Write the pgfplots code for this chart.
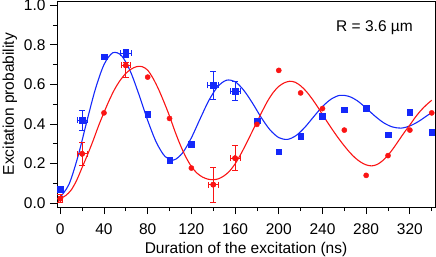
\documentclass[border=0pt]{standalone}
\usepackage{fontspec}
\setmainfont{Liberation Sans}
\usepackage{pgfplots}
\pgfplotsset{compat=1.18}
\definecolor{myblue}{RGB}{20,40,250}
\definecolor{myred}{RGB}{250,20,20}
\newcommand{\lblfont}{\fontsize{15.5bp}{18bp}\selectfont}
\begin{document}
\begin{tikzpicture}
\path[use as bounding box] (-57bp,-50bp) rectangle (379bp,207bp);
\begin{axis}[
  at={(0,0)}, anchor=south west,
  scale only axis, width=378bp, height=205.6bp,
  xmin=-3, xmax=343, ymin=-0.02, ymax=1.02,
  axis line style={line width=0.8bp, black},
  tick align=outside, tick pos=left,
  major tick length=7bp, minor tick length=4bp,
  every tick/.style={black, line width=0.8bp},
  xtick={0,40,80,120,160,200,240,280,320},
  minor xtick={20,60,100,140,180,220,260,300,340},
  ytick={0,0.2,0.4,0.6,0.8,1.0},
  minor ytick={0.1,0.3,0.5,0.7,0.9},
  /pgf/number format/assume math mode=true,
  yticklabel style={/pgf/number format/fixed, /pgf/number format/fixed zerofill, /pgf/number format/precision=1, xshift=-1bp},
  xticklabel style={yshift=-6bp},
  tick label style={font=\lblfont},
  label style={font=\lblfont},
  xlabel={Duration of the excitation (ns)},
  xlabel style={at={(axis description cs:0.5,0)}, anchor=base, yshift=-46.8bp},
  ylabel={Excitation probability},
]
\addplot[myblue, line width=1.1bp, smooth] coordinates {
(0,0.030)(8,0.095)(16,0.232)(24,0.406)(32,0.574)(40,0.700)(48,0.760)(56,0.746)(64,0.668)(72,0.549)(80,0.418)(88,0.306)(96,0.235)(104,0.218)(112,0.254)(120,0.330)(128,0.426)(136,0.519)(144,0.588)(152,0.621)(160,0.614)(168,0.570)(176,0.505)(184,0.432)(192,0.370)(200,0.331)(208,0.322)(216,0.342)(224,0.384)(232,0.437)(240,0.488)(248,0.526)(256,0.545)(264,0.540)(272,0.517)(280,0.480)(288,0.440)(296,0.406)(304,0.385)(312,0.379)(320,0.390)(328,0.413)(336,0.443)(340,0.457)
};
\addplot[myred, line width=1.1bp, smooth] coordinates {
(0,0.022)(5,0.038)(10,0.066)(15,0.115)(20,0.180)(25,0.245)(30,0.315)(35,0.390)(40,0.458)(45,0.522)(50,0.578)(55,0.622)(60,0.656)(65,0.678)(70,0.690)(75,0.690)(80,0.672)(85,0.630)(90,0.575)(95,0.510)(100,0.440)(105,0.362)(110,0.292)(115,0.232)(120,0.185)(125,0.152)(130,0.132)(135,0.121)(140,0.118)(145,0.123)(150,0.138)(155,0.162)(160,0.198)(165,0.245)(170,0.298)(175,0.354)(180,0.410)(185,0.466)(190,0.518)(195,0.560)(200,0.590)(205,0.608)(210,0.616)(215,0.611)(220,0.593)(225,0.566)(230,0.531)(235,0.491)(240,0.448)(245,0.405)(250,0.364)(255,0.325)(260,0.289)(265,0.256)(270,0.228)(275,0.207)(280,0.193)(285,0.188)(290,0.195)(295,0.214)(300,0.242)(305,0.278)(310,0.318)(315,0.358)(320,0.395)(325,0.434)(330,0.468)(335,0.496)(340,0.520)
};
% error bars
\addplot[myblue, only marks, mark=square*, mark size=2.8bp,
  error bars/.cd, x dir=both, x explicit, y dir=both, y explicit,
  error bar style={line width=0.8bp},
  error mark options={rotate=90, mark size=3bp, line width=0.8bp}]
coordinates {
(20,0.42) +- (4.5,0.05)
(60,0.757) +- (5,0.02)
(140,0.595) +- (5,0.071)
(160,0.567) +- (4.5,0.05)
};
\addplot[myred, only marks, mark=*, mark size=2.6bp,
  error bars/.cd, x dir=both, x explicit, y dir=both, y explicit,
  error bar style={line width=0.8bp},
  error mark options={rotate=90, mark size=3bp, line width=0.8bp}]
coordinates {
(0,0.022) +- (2,0.02)
(20,0.249) +- (4.5,0.058)
(60,0.696) += (4.5,0.017) -= (4.5,0.062)
(140,0.093) +- (4.5,0.088)
(160,0.227) +- (4.5,0.063)
};
% data points
\addplot[myblue, only marks, mark=square*, mark size=2.8bp] coordinates {
(0,0.07)(20,0.42)(40,0.74)(60,0.757)(80,0.448)(100,0.217)(120,0.297)(140,0.595)(160,0.567)(180,0.416)(200,0.26)(220,0.339)(240,0.44)(260,0.473)(280,0.481)(300,0.346)(320,0.461)(340,0.358)
};
\addplot[myred, only marks, mark=*, mark size=2.6bp] coordinates {
(0,0.022)(20,0.249)(40,0.456)(60,0.696)(80,0.637)(100,0.428)(120,0.177)(140,0.093)(160,0.227)(180,0.398)(200,0.671)(220,0.557)(240,0.478)(260,0.369)(280,0.14)(300,0.24)(320,0.369)(340,0.456)
};
\node[font=\lblfont] at (rel axis cs:0.84,0.872) {R = 3.6 µm};
\end{axis}
\end{tikzpicture}
\end{document}
